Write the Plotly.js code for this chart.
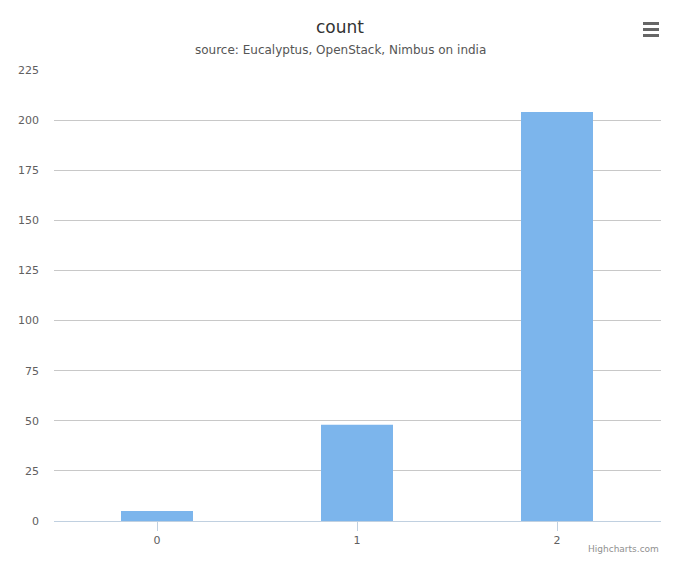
<!DOCTYPE html>
<html>
<head>
<meta charset="utf-8">
<script src="https://cdn.plot.ly/plotly-3.0.1.min.js"></script>
<style>
  html, body { margin: 0; padding: 0; background: #fff; }
  #chart { width: 680px; height: 566px; }
</style>
</head>
<body>
<div id="chart"></div>
<script>
// datos
const categorias = ['0', '1', '2'];
const valores = [5, 48, 204];
const ticksY = [0, 25, 50, 75, 100, 125, 150, 175, 200, 225];

const fuente = '"DejaVu Sans", Verdana, sans-serif';

const traza = {
    x: categorias,
    y: valores,
    type: 'bar',
    name: 'count',
    marker: { color: '#7cb5ec' },
    hoverinfo: 'x+y'
};

// icono de menu (tres barras)
const menu = [0, 1, 2].map(i => ({
    type: 'rect', xref: 'paper', yref: 'paper',
    x0: (643 - 54) / 607, x1: (659 - 54) / 607,
    y0: (521 - (22 + i * 6)) / 451, y1: (521 - (25 + i * 6)) / 451,
    fillcolor: '#666666', line: { width: 0 }
}));

const layout = {
    width: 680,
    height: 566,
    margin: { t: 70, b: 45, l: 54, r: 19 },
    paper_bgcolor: '#ffffff',
    plot_bgcolor: '#ffffff',
    showlegend: false,
    font: { family: fuente, color: '#606060', size: 11 },
    bargap: 0.64,
    xaxis: {
        type: 'category',
        range: [-0.515, 2.52],
        showline: true,
        linecolor: '#C0D0E0',
        linewidth: 1,
        ticks: 'outside',
        ticklen: 9,
        tickcolor: '#C0D0E0',
        showgrid: false,
        zeroline: false,
        tickfont: { size: 11, color: '#606060' }
    },
    yaxis: {
        range: [0, 225],
        tickvals: ticksY,
        gridcolor: '#c8c8c8',
        zeroline: false,
        showline: false,
        ticklabelstandoff: 14,
        tickfont: { size: 11, color: '#606060' }
    },
    annotations: [
        {
            text: 'count', xref: 'paper', yref: 'paper',
            x: (340 - 54) / 607, y: (521 - 27) / 451,
            showarrow: false, xanchor: 'center', yanchor: 'middle',
            font: { family: fuente, size: 17, color: '#333333' }
        },
        {
            text: 'source: Eucalyptus, OpenStack, Nimbus on india', xref: 'paper', yref: 'paper',
            x: (340 - 54) / 607, y: (521 - 50) / 451,
            showarrow: false, xanchor: 'center', yanchor: 'middle',
            font: { family: fuente, size: 12, color: '#555555' }
        },
        {
            text: 'Highcharts.com', xref: 'paper', yref: 'paper',
            x: 1, y: (521 - 549) / 451,
            showarrow: false, xanchor: 'right', yanchor: 'middle',
            font: { family: fuente, size: 9, color: '#909090' }
        }
    ],
    shapes: menu
};

Plotly.newPlot('chart', [traza], layout, { displayModeBar: false, responsive: false });
</script>
</body>
</html>
